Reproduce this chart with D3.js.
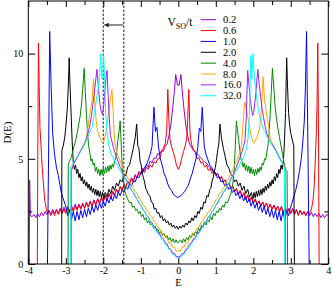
<!DOCTYPE html>
<html><head><meta charset="utf-8">
<script src="https://cdn.jsdelivr.net/npm/d3@7"></script>
<style>body{margin:0;background:#fff}svg{display:block}</style>
</head><body>
<svg id="c" width="332" height="287"></svg>
<script>
// ---- data (E, D(E)) ----
const legendLabels = ["0.2","0.6","1.0","2.0","4.0","8.0","16.0","32.0"];
const xMajor = [-4,-3,-2,-1,0,1,2,3,4];
const xMinor = [-3.5,-2.5,-1.5,-0.5,0.5,1.5,2.5,3.5];
const yMajor = [0,5,10];
const yMinor = [2.5,7.5];
const markE = [-2,-1.455];
const arrowE = [-1.47,-1.99];
const arrowD = 11.36;

const vso02 = [[-3.975,0],[-3.965,4.0],[-3.945,2.3],[-3.9,2.25],[-3.85,2.35],[-3.8,2.2],[-3.75,2.4],[-3.7,2.25],[-3.65,2.45],[-3.6,2.3],[-3.55,2.5],[-3.5,2.35],[-3.45,2.55],[-3.4,2.35],[-3.35,2.6],[-3.3,2.4],[-3.25,2.6],[-3.2,2.4],[-3.15,2.65],[-3.1,2.45],[-3.05,2.7],[-3.0,2.5],[-2.95,2.75],[-2.9,2.5],[-2.85,2.8],[-2.8,2.55],[-2.75,2.85],[-2.7,2.6],[-2.65,2.85],[-2.6,2.65],[-2.55,2.9],[-2.5,2.65],[-2.45,2.95],[-2.4,2.7],[-2.35,3.0],[-2.3,2.75],[-2.25,3.05],[-2.2,2.8],[-2.15,3.1],[-2.1,2.85],[-2.05,3.15],[-2.0,2.95],[-1.95,3.25],[-1.9,3.0],[-1.85,3.35],[-1.8,3.1],[-1.75,3.45],[-1.7,3.25],[-1.65,3.55],[-1.6,3.35],[-1.55,3.7],[-1.5,3.5],[-1.45,3.8],[-1.4,3.65],[-1.35,3.95],[-1.3,3.8],[-1.25,4.1],[-1.2,3.95],[-1.15,4.25],[-1.1,4.1],[-1.05,4.4],[-1.0,4.3],[-0.95,4.55],[-0.9,4.45],[-0.85,4.75],[-0.8,4.6],[-0.75,4.9],[-0.7,4.8],[-0.65,5.05],[-0.6,5.0],[-0.55,5.25],[-0.5,5.2],[-0.45,5.4],[-0.4,5.35],[-0.35,5.6],[-0.3,5.7],[-0.25,6.1],[-0.2,6.6],[-0.15,7.4],[-0.1,8.3],[-0.07,9.0],[-0.04,8.7],[-0.02,8.5],[0.02,8.5],[0.04,8.7],[0.07,9.0],[0.1,8.3],[0.15,7.4],[0.2,6.6],[0.25,6.1],[0.3,5.7],[0.35,5.55],[0.4,5.4],[0.45,5.35],[0.5,5.25],[0.55,5.15],[0.6,5.05],[0.65,4.95],[0.7,4.85],[0.75,4.8],[0.8,4.65],[0.85,4.6],[0.9,4.45],[0.95,4.45],[1.0,4.25],[1.05,4.3],[1.1,4.05],[1.15,4.15],[1.2,3.9],[1.25,4.0],[1.3,3.75],[1.35,3.85],[1.4,3.6],[1.45,3.7],[1.5,3.45],[1.55,3.55],[1.6,3.3],[1.65,3.45],[1.7,3.2],[1.75,3.35],[1.8,3.05],[1.85,3.25],[1.9,2.95],[1.95,3.15],[2.0,2.9],[2.05,3.05],[2.1,2.8],[2.15,3.0],[2.2,2.75],[2.25,2.95],[2.3,2.7],[2.35,2.9],[2.4,2.65],[2.45,2.85],[2.5,2.6],[2.55,2.8],[2.6,2.55],[2.65,2.75],[2.7,2.5],[2.75,2.75],[2.8,2.45],[2.85,2.7],[2.9,2.45],[2.95,2.65],[3.0,2.4],[3.05,2.65],[3.1,2.4],[3.15,2.6],[3.2,2.35],[3.25,2.55],[3.3,2.35],[3.35,2.5],[3.4,2.3],[3.45,2.5],[3.5,2.3],[3.55,2.45],[3.6,2.25],[3.65,2.4],[3.7,2.25],[3.75,2.4],[3.8,2.2],[3.85,2.35],[3.9,2.2],[3.95,2.35],[4.0,2.3]];

const vso06 = [[-3.76,0],[-3.745,6.0],[-3.73,10.5],[-3.71,8.5],[-3.69,6.5],[-3.66,5.6],[-3.63,4.6],[-3.6,3.9],[-3.56,3.0],[-3.52,2.6],[-3.48,2.4],[-3.45,2.55],[-3.4,2.3],[-3.35,2.5],[-3.3,2.3],[-3.25,2.55],[-3.2,2.35],[-3.15,2.6],[-3.1,2.4],[-3.05,2.6],[-3.0,2.4],[-2.95,2.65],[-2.9,2.45],[-2.85,2.7],[-2.8,2.5],[-2.75,2.75],[-2.7,2.55],[-2.65,2.8],[-2.6,2.6],[-2.55,2.85],[-2.5,2.65],[-2.45,2.9],[-2.4,2.7],[-2.35,2.95],[-2.3,2.75],[-2.25,3.0],[-2.2,2.8],[-2.15,3.1],[-2.1,2.9],[-2.05,3.15],[-2.0,3.0],[-1.95,3.25],[-1.9,3.05],[-1.85,3.35],[-1.8,3.15],[-1.75,3.45],[-1.7,3.25],[-1.65,3.55],[-1.6,3.4],[-1.55,3.65],[-1.5,3.5],[-1.45,3.8],[-1.4,3.65],[-1.35,3.9],[-1.3,3.8],[-1.25,4.05],[-1.2,3.9],[-1.15,4.2],[-1.1,4.1],[-1.05,4.35],[-1.0,4.25],[-0.95,4.45],[-0.9,4.35],[-0.85,4.6],[-0.8,4.5],[-0.75,4.7],[-0.7,4.6],[-0.65,4.85],[-0.6,4.8],[-0.55,5.0],[-0.5,5.0],[-0.45,5.3],[-0.4,5.5],[-0.35,5.7],[-0.31,6.3],[-0.28,8.3],[-0.25,6.8],[-0.22,5.9],[-0.18,5.6],[-0.14,5.35],[-0.1,5.1],[-0.05,4.7],[0,4.5],[0.05,4.7],[0.1,5.1],[0.14,5.35],[0.18,5.6],[0.22,5.9],[0.25,6.8],[0.28,8.3],[0.31,6.3],[0.35,5.7],[0.4,5.45],[0.45,5.3],[0.5,5.0],[0.55,5.05],[0.6,4.8],[0.65,4.85],[0.7,4.6],[0.75,4.7],[0.8,4.45],[0.85,4.55],[0.9,4.3],[0.95,4.4],[1.0,4.2],[1.05,4.3],[1.1,4.05],[1.15,4.15],[1.2,3.9],[1.25,4.0],[1.3,3.75],[1.35,3.85],[1.4,3.6],[1.45,3.7],[1.5,3.45],[1.55,3.6],[1.6,3.35],[1.65,3.5],[1.7,3.2],[1.75,3.4],[1.8,3.1],[1.85,3.3],[1.9,3.0],[1.95,3.2],[2.0,2.9],[2.05,3.1],[2.1,2.85],[2.15,3.0],[2.2,2.75],[2.25,2.95],[2.3,2.7],[2.35,2.9],[2.4,2.65],[2.45,2.85],[2.5,2.6],[2.55,2.8],[2.6,2.55],[2.65,2.75],[2.7,2.5],[2.75,2.7],[2.8,2.45],[2.85,2.65],[2.9,2.4],[2.95,2.6],[3.0,2.4],[3.05,2.6],[3.1,2.35],[3.15,2.55],[3.2,2.3],[3.25,2.55],[3.3,2.35],[3.35,2.5],[3.4,2.3],[3.45,2.5],[3.5,2.4],[3.55,2.6],[3.59,3.0],[3.62,3.6],[3.65,4.8],[3.68,6.2],[3.7,7.6],[3.72,10.5],[3.74,6.0],[3.755,0]];

const vso10 = [[-3.49,0],[-3.46,5.0],[-3.43,11.05],[-3.39,8.4],[-3.35,6.2],[-3.3,5.2],[-3.25,4.6],[-3.2,4.2],[-3.16,3.8],[-3.12,3.4],[-3.07,3.1],[-3.02,2.85],[-2.98,2.6],[-2.95,2.3],[-2.9,2.6],[-2.85,2.1],[-2.8,2.5],[-2.75,2.05],[-2.7,2.5],[-2.65,2.1],[-2.6,2.55],[-2.55,2.2],[-2.5,2.6],[-2.45,2.25],[-2.4,2.65],[-2.35,2.35],[-2.3,2.75],[-2.25,2.45],[-2.2,2.8],[-2.15,2.55],[-2.1,2.9],[-2.05,2.65],[-2.0,3.0],[-1.95,2.75],[-1.9,3.1],[-1.85,2.9],[-1.8,3.2],[-1.75,3.0],[-1.7,3.3],[-1.65,3.1],[-1.6,3.4],[-1.55,3.25],[-1.5,3.5],[-1.45,3.4],[-1.4,3.65],[-1.35,3.55],[-1.3,3.8],[-1.25,3.7],[-1.2,3.95],[-1.15,3.9],[-1.1,4.15],[-1.05,4.1],[-1.0,4.35],[-0.95,4.35],[-0.9,4.6],[-0.85,4.7],[-0.8,4.95],[-0.75,5.2],[-0.7,5.6],[-0.65,7.45],[-0.61,6.3],[-0.57,6.5],[-0.53,5.6],[-0.48,5.0],[-0.43,4.7],[-0.38,4.3],[-0.33,4.1],[-0.28,3.8],[-0.23,3.6],[-0.18,3.5],[-0.13,3.3],[-0.08,3.25],[-0.03,3.15],[0.02,3.2],[0.07,3.25],[0.12,3.35],[0.17,3.45],[0.22,3.6],[0.27,3.75],[0.32,4.05],[0.37,4.3],[0.42,4.65],[0.47,5.0],[0.52,5.55],[0.56,6.45],[0.6,6.3],[0.64,7.45],[0.69,5.6],[0.74,5.2],[0.79,4.95],[0.84,4.7],[0.89,4.6],[0.94,4.35],[0.99,4.35],[1.04,4.1],[1.09,4.15],[1.14,3.9],[1.19,3.95],[1.24,3.7],[1.29,3.8],[1.34,3.55],[1.39,3.65],[1.44,3.4],[1.49,3.5],[1.54,3.25],[1.59,3.4],[1.64,3.1],[1.69,3.3],[1.74,3.0],[1.79,3.2],[1.84,2.9],[1.89,3.1],[1.94,2.75],[1.99,3.0],[2.04,2.65],[2.09,2.9],[2.14,2.55],[2.19,2.8],[2.24,2.45],[2.29,2.75],[2.34,2.35],[2.39,2.65],[2.44,2.25],[2.49,2.6],[2.54,2.2],[2.59,2.55],[2.64,2.1],[2.69,2.5],[2.74,2.05],[2.79,2.5],[2.84,2.1],[2.89,2.55],[2.94,2.3],[2.98,2.6],[3.03,2.9],[3.08,3.2],[3.13,3.5],[3.18,3.9],[3.23,4.4],[3.28,5.0],[3.32,5.8],[3.36,6.8],[3.39,8.4],[3.42,11.05],[3.46,5.0],[3.49,0]];

const vso20 = [[-3.11,0],[-3.105,5.4],[-3.07,5.6],[-3.03,6.0],[-3.0,6.5],[-2.96,7.4],[-2.93,8.6],[-2.91,9.8],[-2.89,8.6],[-2.86,7.2],[-2.83,5.8],[-2.8,4.8],[-2.77,4.5],[-2.74,4.7],[-2.71,4.3],[-2.68,4.5],[-2.65,4.1],[-2.62,4.3],[-2.59,3.95],[-2.56,4.15],[-2.53,3.8],[-2.5,4.0],[-2.47,3.7],[-2.44,3.9],[-2.41,3.6],[-2.38,3.8],[-2.35,3.5],[-2.32,3.7],[-2.29,3.4],[-2.26,3.6],[-2.23,3.3],[-2.2,3.55],[-2.17,3.25],[-2.14,3.5],[-2.11,3.2],[-2.08,3.45],[-2.05,3.15],[-2.02,3.4],[-1.99,3.1],[-1.95,3.4],[-1.9,3.2],[-1.85,3.55],[-1.8,3.35],[-1.75,3.7],[-1.7,3.5],[-1.65,3.85],[-1.6,3.7],[-1.55,4.0],[-1.5,3.9],[-1.45,4.25],[-1.4,4.2],[-1.35,4.6],[-1.3,4.7],[-1.25,5.1],[-1.2,5.5],[-1.15,6.0],[-1.11,6.65],[-1.08,5.6],[-1.05,5.5],[-1.02,4.9],[-0.99,4.7],[-0.96,4.3],[-0.93,4.1],[-0.9,3.9],[-0.87,3.6],[-0.84,3.5],[-0.8,3.3],[-0.76,3.25],[-0.72,2.95],[-0.68,2.9],[-0.64,2.6],[-0.6,2.65],[-0.56,2.4],[-0.52,2.45],[-0.48,2.2],[-0.44,2.3],[-0.4,2.05],[-0.36,2.15],[-0.32,1.95],[-0.28,2.05],[-0.24,1.85],[-0.2,1.95],[-0.16,1.75],[-0.12,1.85],[-0.08,1.7],[-0.04,1.8],[0,1.65],[0.04,1.8],[0.08,1.7],[0.12,1.85],[0.16,1.75],[0.2,1.95],[0.24,1.85],[0.28,2.05],[0.32,1.95],[0.36,2.2],[0.4,2.05],[0.44,2.3],[0.48,2.2],[0.52,2.5],[0.56,2.4],[0.6,2.7],[0.64,2.6],[0.68,2.95],[0.72,2.9],[0.76,3.25],[0.8,3.2],[0.84,3.55],[0.87,3.6],[0.9,3.95],[0.93,4.1],[0.96,4.4],[0.99,4.6],[1.02,5.0],[1.05,5.4],[1.08,5.7],[1.11,6.65],[1.15,6.0],[1.2,5.5],[1.25,5.1],[1.3,4.7],[1.35,4.55],[1.4,4.25],[1.45,4.2],[1.5,3.9],[1.55,4.0],[1.6,3.7],[1.65,3.85],[1.7,3.5],[1.75,3.7],[1.8,3.35],[1.85,3.55],[1.9,3.2],[1.95,3.4],[1.99,3.1],[2.02,3.4],[2.05,3.15],[2.08,3.45],[2.11,3.2],[2.14,3.5],[2.17,3.25],[2.2,3.55],[2.23,3.3],[2.26,3.6],[2.29,3.4],[2.32,3.7],[2.35,3.5],[2.38,3.8],[2.41,3.6],[2.44,3.9],[2.47,3.7],[2.5,4.0],[2.53,3.8],[2.56,4.15],[2.59,3.95],[2.62,4.3],[2.65,4.1],[2.68,4.5],[2.71,4.3],[2.74,4.7],[2.77,4.5],[2.8,4.8],[2.83,5.8],[2.86,7.2],[2.89,9.8],[2.91,8.6],[2.94,7.2],[2.97,6.6],[3.0,6.2],[3.04,5.9],[3.08,5.6],[3.095,0]];

const vso40 = [[-2.94,0],[-2.935,4.7],[-2.9,4.9],[-2.86,5.05],[-2.82,5.3],[-2.78,5.6],[-2.74,5.85],[-2.7,6.2],[-2.66,6.6],[-2.62,7.0],[-2.58,7.6],[-2.55,8.3],[-2.51,9.3],[-2.48,8.2],[-2.45,7.1],[-2.42,6.2],[-2.39,5.6],[-2.36,5.3],[-2.33,4.9],[-2.3,5.0],[-2.27,4.7],[-2.24,4.8],[-2.21,4.4],[-2.18,4.6],[-2.15,4.3],[-2.12,4.5],[-2.09,4.2],[-2.06,4.5],[-2.03,4.25],[-2.0,4.55],[-1.97,4.3],[-1.94,4.6],[-1.91,4.35],[-1.88,4.65],[-1.85,4.4],[-1.82,4.7],[-1.79,4.5],[-1.76,4.75],[-1.73,4.6],[-1.7,4.9],[-1.67,5.0],[-1.64,5.4],[-1.61,5.9],[-1.58,6.3],[-1.55,6.8],[-1.52,5.6],[-1.49,4.5],[-1.46,3.9],[-1.43,3.5],[-1.4,3.3],[-1.37,3.15],[-1.34,3.05],[-1.3,2.9],[-1.26,2.95],[-1.22,2.7],[-1.18,2.75],[-1.14,2.55],[-1.1,2.6],[-1.06,2.4],[-1.02,2.5],[-0.98,2.25],[-0.94,2.35],[-0.9,2.1],[-0.86,2.2],[-0.82,1.95],[-0.78,2.05],[-0.74,1.85],[-0.7,1.95],[-0.66,1.7],[-0.62,1.8],[-0.58,1.6],[-0.54,1.65],[-0.5,1.45],[-0.46,1.55],[-0.42,1.35],[-0.38,1.45],[-0.34,1.25],[-0.3,1.35],[-0.26,1.15],[-0.22,1.25],[-0.18,1.05],[-0.14,1.2],[-0.1,1.0],[-0.06,1.15],[-0.02,1.0],[0.02,1.05],[0.06,1.15],[0.1,1.0],[0.14,1.2],[0.18,1.05],[0.22,1.25],[0.26,1.15],[0.3,1.35],[0.34,1.25],[0.38,1.45],[0.42,1.35],[0.46,1.55],[0.5,1.45],[0.54,1.7],[0.58,1.6],[0.62,1.85],[0.66,1.75],[0.7,2.0],[0.74,1.85],[0.78,2.1],[0.82,2.0],[0.86,2.25],[0.9,2.1],[0.94,2.4],[0.98,2.3],[1.02,2.5],[1.06,2.45],[1.1,2.65],[1.14,2.55],[1.18,2.8],[1.22,2.7],[1.26,2.95],[1.3,2.9],[1.34,3.05],[1.37,3.2],[1.4,3.35],[1.43,3.55],[1.46,3.9],[1.49,4.5],[1.52,5.6],[1.55,6.8],[1.58,6.3],[1.61,5.9],[1.64,5.4],[1.67,5.0],[1.7,4.85],[1.73,4.6],[1.76,4.8],[1.79,4.45],[1.82,4.7],[1.85,4.4],[1.88,4.65],[1.91,4.3],[1.94,4.6],[1.97,4.3],[2.0,4.5],[2.03,4.2],[2.06,4.5],[2.09,4.25],[2.12,4.55],[2.15,4.35],[2.18,4.6],[2.21,4.45],[2.24,4.8],[2.27,4.7],[2.3,5.0],[2.33,4.95],[2.36,5.3],[2.39,5.6],[2.42,6.2],[2.45,7.1],[2.48,8.2],[2.51,9.3],[2.55,8.3],[2.58,7.5],[2.62,6.9],[2.66,6.4],[2.7,6.0],[2.74,5.6],[2.78,5.2],[2.82,4.8],[2.86,4.5],[2.9,4.4],[2.915,0]];

const vso80 = [[-2.86,0],[-2.855,4.5],[-2.8,4.75],[-2.75,4.9],[-2.7,5.05],[-2.65,5.2],[-2.6,5.4],[-2.55,5.6],[-2.5,5.75],[-2.45,6.0],[-2.41,6.5],[-2.38,6.9],[-2.34,7.3],[-2.3,7.8],[-2.26,8.8],[-2.23,7.8],[-2.2,7.0],[-2.17,6.5],[-2.13,6.2],[-2.09,6.0],[-2.05,5.85],[-2.01,5.75],[-1.97,5.9],[-1.93,6.3],[-1.89,6.8],[-1.85,7.3],[-1.81,7.8],[-1.77,8.3],[-1.74,7.3],[-1.71,6.2],[-1.68,5.6],[-1.64,5.3],[-1.6,5.1],[-1.55,4.9],[-1.5,4.7],[-1.45,4.45],[-1.4,4.3],[-1.35,4.1],[-1.3,3.95],[-1.25,3.75],[-1.2,3.6],[-1.15,3.45],[-1.1,3.35],[-1.05,3.15],[-1.0,3.05],[-0.95,2.85],[-0.9,2.75],[-0.85,2.55],[-0.8,2.5],[-0.75,2.3],[-0.7,2.25],[-0.65,2.0],[-0.6,1.95],[-0.55,1.75],[-0.5,1.7],[-0.45,1.5],[-0.4,1.45],[-0.35,1.25],[-0.3,1.2],[-0.25,1.0],[-0.2,1.0],[-0.15,0.8],[-0.1,0.8],[-0.05,0.6],[0,0.65],[0.05,0.6],[0.1,0.8],[0.15,0.8],[0.2,1.0],[0.25,1.0],[0.3,1.2],[0.35,1.25],[0.4,1.45],[0.45,1.5],[0.5,1.7],[0.55,1.75],[0.6,1.95],[0.65,2.0],[0.7,2.25],[0.75,2.3],[0.8,2.5],[0.85,2.55],[0.9,2.75],[0.95,2.85],[1.0,3.05],[1.05,3.15],[1.1,3.35],[1.15,3.45],[1.2,3.6],[1.25,3.75],[1.3,3.95],[1.35,4.1],[1.4,4.3],[1.45,4.45],[1.5,4.7],[1.55,4.9],[1.6,5.1],[1.64,5.3],[1.68,5.6],[1.71,6.2],[1.74,7.0],[1.77,7.7],[1.81,7.4],[1.85,7.0],[1.89,6.6],[1.93,6.2],[1.97,5.9],[2.01,5.75],[2.05,5.85],[2.09,6.0],[2.13,6.2],[2.17,6.5],[2.2,7.0],[2.23,7.8],[2.26,8.9],[2.3,7.8],[2.34,7.3],[2.38,6.9],[2.41,6.5],[2.45,6.0],[2.5,5.75],[2.55,5.6],[2.6,5.4],[2.65,5.2],[2.7,5.05],[2.75,4.9],[2.8,4.75],[2.84,4.6],[2.855,0]];

const vso160 = [[-2.86,0],[-2.855,4.4],[-2.8,4.7],[-2.75,4.9],[-2.7,5.05],[-2.65,5.25],[-2.6,5.4],[-2.55,5.55],[-2.5,5.7],[-2.45,5.95],[-2.41,6.2],[-2.37,6.5],[-2.33,6.9],[-2.29,7.4],[-2.25,8.0],[-2.21,8.6],[-2.17,9.25],[-2.13,8.4],[-2.09,7.6],[-2.05,7.2],[-2.02,7.1],[-1.99,7.5],[-1.96,8.2],[-1.93,8.8],[-1.9,9.2],[-1.87,8.0],[-1.84,6.9],[-1.81,6.1],[-1.78,5.9],[-1.74,5.6],[-1.7,5.35],[-1.65,5.1],[-1.6,4.85],[-1.55,4.6],[-1.5,4.4],[-1.45,4.2],[-1.4,4.05],[-1.35,3.85],[-1.3,3.7],[-1.25,3.5],[-1.2,3.4],[-1.15,3.2],[-1.1,3.1],[-1.05,2.9],[-1.0,2.8],[-0.95,2.6],[-0.9,2.5],[-0.85,2.3],[-0.8,2.25],[-0.75,2.05],[-0.7,1.95],[-0.65,1.8],[-0.6,1.7],[-0.55,1.5],[-0.5,1.45],[-0.45,1.25],[-0.4,1.2],[-0.35,1.0],[-0.3,0.95],[-0.25,0.75],[-0.2,0.7],[-0.15,0.5],[-0.1,0.5],[-0.05,0.35],[0,0.35],[0.05,0.35],[0.1,0.5],[0.15,0.5],[0.2,0.7],[0.25,0.75],[0.3,0.95],[0.35,1.0],[0.4,1.2],[0.45,1.25],[0.5,1.45],[0.55,1.5],[0.6,1.7],[0.65,1.8],[0.7,1.95],[0.75,2.05],[0.8,2.25],[0.85,2.3],[0.9,2.5],[0.95,2.6],[1.0,2.8],[1.05,2.9],[1.1,3.1],[1.15,3.2],[1.2,3.4],[1.25,3.5],[1.3,3.7],[1.35,3.85],[1.4,4.05],[1.45,4.2],[1.5,4.4],[1.55,4.6],[1.6,4.85],[1.65,5.1],[1.7,5.35],[1.74,5.6],[1.78,5.9],[1.81,6.9],[1.85,9.2],[1.88,8.6],[1.91,8.0],[1.95,7.4],[1.98,7.05],[2.01,7.2],[2.05,7.8],[2.09,8.6],[2.12,9.25],[2.16,8.5],[2.2,7.9],[2.24,7.3],[2.28,6.9],[2.32,6.5],[2.36,6.2],[2.41,5.95],[2.45,5.8],[2.5,5.7],[2.55,5.55],[2.6,5.4],[2.65,5.25],[2.7,5.05],[2.75,4.9],[2.8,4.7],[2.84,4.55],[2.855,0]];

const vso320 = [[-2.87,0],[-2.865,4.6],[-2.8,4.8],[-2.75,4.95],[-2.7,5.1],[-2.65,5.2],[-2.6,5.35],[-2.55,5.5],[-2.5,5.7],[-2.45,5.85],[-2.42,6.0],[-2.38,6.2],[-2.34,6.35],[-2.3,6.5],[-2.27,6.8],[-2.24,7.2],[-2.2,7.6],[-2.17,8.0],[-2.13,8.4],[-2.1,8.9],[-2.07,10.0],[-2.04,8.8],[-2.02,8.9],[-1.99,9.9],[-1.96,8.6],[-1.94,7.2],[-1.9,6.3],[-1.86,5.7],[-1.82,5.4],[-1.77,5.15],[-1.72,5.0],[-1.66,4.8],[-1.6,4.6],[-1.55,4.45],[-1.5,4.3],[-1.45,4.15],[-1.4,4.0],[-1.35,3.85],[-1.3,3.7],[-1.25,3.55],[-1.2,3.4],[-1.15,3.25],[-1.1,3.1],[-1.05,2.95],[-1.0,2.8],[-0.95,2.6],[-0.9,2.5],[-0.85,2.3],[-0.8,2.2],[-0.75,2.0],[-0.7,1.9],[-0.65,1.75],[-0.6,1.6],[-0.55,1.45],[-0.5,1.35],[-0.45,1.2],[-0.4,1.1],[-0.35,0.95],[-0.3,0.85],[-0.25,0.7],[-0.2,0.6],[-0.15,0.45],[-0.1,0.4],[-0.05,0.3],[0,0.3],[0.05,0.3],[0.1,0.4],[0.15,0.45],[0.2,0.6],[0.25,0.7],[0.3,0.85],[0.35,0.95],[0.4,1.1],[0.45,1.2],[0.5,1.35],[0.55,1.45],[0.6,1.6],[0.65,1.75],[0.7,1.9],[0.75,2.0],[0.8,2.2],[0.85,2.3],[0.9,2.5],[0.95,2.6],[1.0,2.8],[1.05,2.95],[1.1,3.1],[1.15,3.25],[1.2,3.4],[1.25,3.55],[1.3,3.7],[1.35,3.85],[1.4,4.0],[1.45,4.15],[1.5,4.3],[1.55,4.45],[1.6,4.6],[1.66,4.8],[1.72,5.0],[1.77,5.2],[1.82,5.5],[1.86,6.0],[1.9,7.2],[1.93,9.9],[1.96,8.8],[1.99,10.0],[2.03,8.8],[2.07,8.2],[2.11,7.6],[2.15,7.2],[2.2,6.8],[2.25,6.5],[2.3,6.3],[2.35,6.1],[2.4,5.95],[2.45,5.8],[2.5,5.65],[2.55,5.5],[2.6,5.35],[2.65,5.2],[2.7,5.0],[2.75,4.85],[2.8,4.7],[2.83,4.6],[2.84,0]];

const seriesData = [vso02, vso06, vso10, vso20, vso40, vso80, vso160, vso320];
// ---- styles ----
const colors = ["#9400d3","#ff0000","#0000ff","#000000","#008b00","#ffa500","#a020f0","#00ffff"];

const svg = d3.select("#c");
const L = 28.3, R = 328.3, T = 1, B = 264;
const x = d3.scaleLinear().domain([-4,4]).range([L,R]);
const y = d3.scaleLinear().domain([0,12.5]).range([B,T]);
const font = "'Liberation Serif','Times New Roman',serif";

svg.append("clipPath").attr("id","clip").append("rect")
  .attr("x",L).attr("y",T).attr("width",R-L).attr("height",B-T);

// dashed markers
svg.append("g").selectAll("line").data(markE).join("line")
  .attr("x1",d=>x(d)).attr("x2",d=>x(d)).attr("y1",y(0)).attr("y2",y(12.5))
  .attr("stroke","#555").attr("stroke-width",1.3).attr("stroke-dasharray","2.5,1.5");

// curves
const line = d3.line().x(d=>x(d[0])).y(d=>y(d[1]));
svg.append("g").attr("clip-path","url(#clip)").selectAll("path").data(seriesData).join("path")
  .attr("d",line).attr("fill","none").attr("stroke",(d,i)=>colors[i]).attr("stroke-width",1)
  .attr("stroke-linejoin","round");

// arrow
svg.append("line").attr("x1",x(arrowE[0])).attr("x2",x(arrowE[1])+4).attr("y1",y(arrowD)).attr("y2",y(arrowD))
  .attr("stroke","#222").attr("stroke-width",1);
const ax = x(arrowE[1]), ay = y(arrowD);
svg.append("path").attr("d",`M${ax},${ay}L${ax+5},${ay-2.3}L${ax+5},${ay+2.3}Z`).attr("fill","#222");

// axes
function styleAxis(g){ g.select(".domain").remove(); g.selectAll("line").attr("stroke","#000");
  g.selectAll("text").attr("font-family",font).attr("font-size",10).attr("fill","#000"); }
svg.append("g").attr("transform",`translate(0,${B})`)
  .call(d3.axisBottom(x).tickValues(xMajor).tickSize(-6).tickPadding(3.3).tickFormat(d=>String(d))).call(styleAxis);
svg.append("g").attr("transform",`translate(0,${B})`)
  .call(d3.axisBottom(x).tickValues(xMinor).tickSize(-4).tickFormat("")).call(styleAxis);
svg.append("g").attr("transform",`translate(0,${T})`)
  .call(d3.axisTop(x).tickValues(xMajor).tickSize(-6).tickFormat("")).call(styleAxis);
svg.append("g").attr("transform",`translate(0,${T})`)
  .call(d3.axisTop(x).tickValues(xMinor).tickSize(-4).tickFormat("")).call(styleAxis);
svg.append("g").attr("transform",`translate(${L},0)`)
  .call(d3.axisLeft(y).tickValues(yMajor).tickSize(-7).tickPadding(5).tickFormat(d=>String(d))).call(styleAxis);
svg.append("g").attr("transform",`translate(${L},0)`)
  .call(d3.axisLeft(y).tickValues(yMinor).tickSize(-4).tickFormat("")).call(styleAxis);
svg.append("g").attr("transform",`translate(${R},0)`)
  .call(d3.axisRight(y).tickValues(yMajor).tickSize(-7).tickFormat("")).call(styleAxis);
svg.append("g").attr("transform",`translate(${R},0)`)
  .call(d3.axisRight(y).tickValues(yMinor).tickSize(-4).tickFormat("")).call(styleAxis);

svg.append("rect").attr("x",L).attr("y",T).attr("width",R-L).attr("height",B-T)
  .attr("fill","none").attr("stroke","#000").attr("stroke-width",1);

// axis titles
svg.append("text").attr("x",178.5).attr("y",285.5).attr("text-anchor","middle")
  .attr("font-family",font).attr("font-size",10.5).text("E");
svg.append("text").attr("transform",`translate(11,${(T+B)/2}) rotate(-90)`).attr("text-anchor","middle")
  .attr("font-family",font).attr("font-size",11).text("D(E)");

// legend
const lg = svg.append("g");
const title = lg.append("text").attr("x",167.5).attr("y",25.7).attr("font-family",font).attr("font-size",11.5);
title.append("tspan").text("V");
title.append("tspan").attr("font-size",8).attr("dy",3.5).text("SO");
title.append("tspan").attr("dy",-3.5).text("/t");
const rows = lg.selectAll("g.row").data(legendLabels).join("g").attr("class","row")
  .attr("transform",(d,i)=>`translate(0,${19.7+i*10.86})`);
rows.append("line").attr("x1",200.7).attr("x2",216).attr("stroke",(d,i)=>colors[i]).attr("stroke-width",1);
rows.append("text").attr("x",223).attr("y",3.6).attr("font-family",font).attr("font-size",10.5).text(d=>d);
</script>
</body></html>
